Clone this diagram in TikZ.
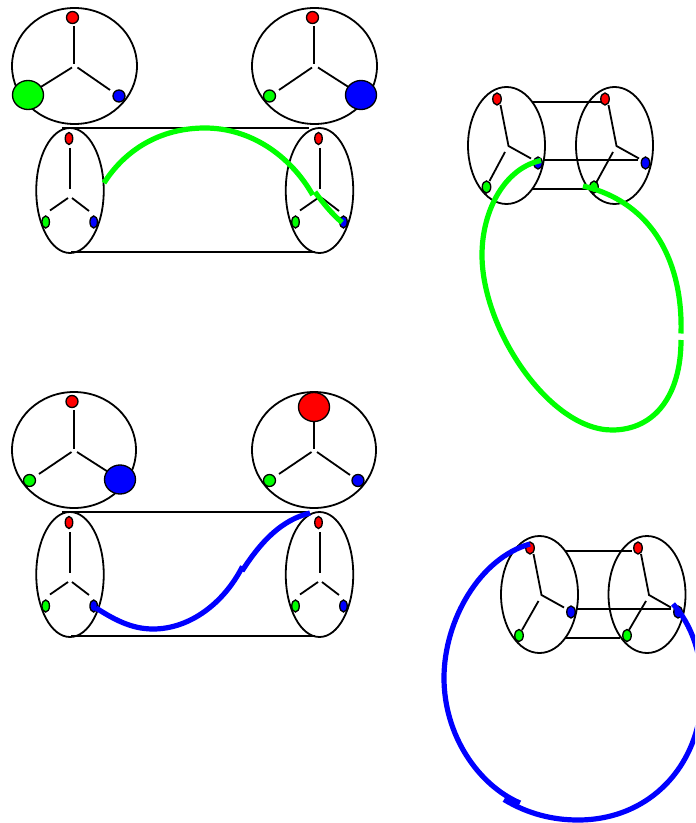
\documentclass[tikz,border=0pt]{standalone}
\usetikzlibrary{shapes.geometric}
\tikzset{
  px/.style={x=0.75pt,y=-0.75pt},
  ring/.style n args={2}{ellipse,draw=black,line width=1.35pt,inner sep=0pt,outer sep=0pt,minimum width=#1*0.75pt,minimum height=#2*0.75pt},
  knob/.style n args={3}{ellipse,draw=black,line width=1pt,inner sep=0pt,outer sep=0pt,fill=#3,minimum width=#1*0.75pt,minimum height=#2*0.75pt},
  wire/.style={line width=1.35pt,black},
  strand/.style={line width=3.9pt,#1},
}
\begin{document}
\begin{tikzpicture}[px]
\clip (0,0) rectangle (695,823);
% ---------- top-left panel
\node[ring={125}{116}] (a1) at (74.5,66) {};
\node[ring={125}{116}] (a2) at (314.5,66) {};
\node[knob={12}{12}{red}] (a1r) at (72.5,17.5) {};
\node[knob={31}{29}{green}] (a1g) at (28,95) {};
\node[knob={12}{12}{blue}] (a1b) at (119,96) {};
\node[knob={12}{12}{red}] (a2r) at (312.5,17.5) {};
\node[knob={12}{12}{green}] (a2g) at (269.5,96) {};
\node[knob={31}{29}{blue}] (a2b) at (361,95) {};
\coordinate (a1c) at (74,64.5); \coordinate (a1l) at (72,67.5); \coordinate (a1m) at (77.5,67.5);
\coordinate (a1t) at (74,26);
\coordinate (a2c) at (314,64.5); \coordinate (a2l) at (312,67.5); \coordinate (a2m) at (318,67.5);
\coordinate (a2t) at (314,26); \coordinate (a2e) at (279,90);
\draw[wire] (a1t) -- (a1c);
\draw[wire] (a1l) -- (a1g);
\coordinate (a1e) at (110,90); \draw[wire] (a1m) -- (a1e);
\draw[wire] (a2t) -- (a2c);
\draw[wire] (a2l) -- (a2e);
\draw[wire] (a2m) -- (a2b);
\node[ring={67.5}{125}] (b1) at (70,190.5) {};
\node[ring={67.5}{125}] (b2) at (319.5,190.5) {};
\node[knob={7.5}{12}{red}] (b1r) at (69,138.5) {};
\node[knob={7.5}{12}{green}] (b1g) at (45.7,222) {};
\node[knob={7.5}{12}{blue}] (b1b) at (93.7,222) {};
\node[knob={7.5}{12}{red}] (b2r) at (318.5,138.5) {};
\node[knob={7.5}{12}{green}] (b2g) at (295.5,222) {};
\node[knob={7.5}{12}{blue}] (b2b) at (343.5,222) {};
\coordinate (b1t) at (70,148); \coordinate (b1c) at (70,189); \coordinate (b1l) at (68,198); \coordinate (b1m) at (72,198);
\coordinate (b1p) at (50,210.5); \coordinate (b1q) at (89,211);
\coordinate (b2t) at (320,148); \coordinate (b2c) at (320,189); \coordinate (b2l) at (318,198); \coordinate (b2m) at (322,198);
\coordinate (b2p) at (300,210.5); \coordinate (b2q) at (339,211);
\draw[wire] (b1t) -- (b1c); \draw[wire] (b1l) -- (b1p); \draw[wire] (b1m) -- (b1q);
\draw[wire] (b2t) -- (b2c); \draw[wire] (b2l) -- (b2p); \draw[wire] (b2m) -- (b2q);
\coordinate (b1n) at (62,128); \coordinate (b2n) at (309,128);
\coordinate (b1s) at (71,252); \coordinate (b2s) at (315,252);
\draw[wire] (b1n) -- (b2n); \draw[wire] (b1s) -- (b2s);
\coordinate (g1) at (104,183); \coordinate (g2) at (205,128); \coordinate (g3) at (312.7,195);
\coordinate (g4) at (315,192); \coordinate (g5) at (342,222.5);
\draw[strand=green] (g1) .. controls (125,150) and (160,128) .. (g2) .. controls (250,128) and (290,155) .. (g3);
\draw[strand=green] (g4) .. controls (323,203) and (332,214) .. (g5);
% ---------- lower-left panel
\node[ring={124}{116}] (c1) at (74,450) {};
\node[ring={124}{116}] (c2) at (314,450) {};
\node[knob={12}{12}{red}] (c1r) at (72,401.5) {};
\node[knob={12}{12}{green}] (c1g) at (29.5,480.5) {};
\node[knob={31}{29}{blue}] (c1b) at (120,479.5) {};
\node[knob={31}{29}{red}] (c2r) at (314,407) {};
\node[knob={12}{12}{green}] (c2g) at (269.5,480.5) {};
\node[knob={12}{12}{blue}] (c2b) at (358,480.5) {};
\coordinate (c1t) at (74,410); \coordinate (c1c) at (74,448.5); \coordinate (c1l) at (71.5,452); \coordinate (c1m) at (77,452); \coordinate (c1e) at (39,474);
\coordinate (c2c) at (314,448.5); \coordinate (c2l) at (311.5,452); \coordinate (c2m) at (317,452); \coordinate (c2e) at (279,474); \coordinate (c2f) at (350,475);
\draw[wire] (c1t) -- (c1c); \draw[wire] (c1l) -- (c1e); \draw[wire] (c1m) -- (c1b);
\draw[wire] (c2r) -- (c2c); \draw[wire] (c2l) -- (c2e); \draw[wire] (c2m) -- (c2f);
\node[ring={67.5}{125}] (d1) at (70,574.5) {};
\node[ring={67.5}{125}] (d2) at (319.5,574.5) {};
\node[knob={7.5}{12}{red}] (d1r) at (69,522.5) {};
\node[knob={7.5}{12}{green}] (d1g) at (45.7,606) {};
\node[knob={7.5}{12}{blue}] (d1b) at (93.7,606) {};
\node[knob={7.5}{12}{red}] (d2r) at (318.5,522.5) {};
\node[knob={7.5}{12}{green}] (d2g) at (295.5,606) {};
\node[knob={7.5}{12}{blue}] (d2b) at (343.5,606) {};
\coordinate (d1t) at (70,532); \coordinate (d1c) at (70,573); \coordinate (d1l) at (68,582); \coordinate (d1m) at (72,582);
\coordinate (d1p) at (50,594.5); \coordinate (d1q) at (89,595);
\coordinate (d2t) at (320,532); \coordinate (d2c) at (320,573); \coordinate (d2l) at (318,582); \coordinate (d2m) at (322,582);
\coordinate (d2p) at (300,594.5); \coordinate (d2q) at (339,595);
\draw[wire] (d1t) -- (d1c); \draw[wire] (d1l) -- (d1p); \draw[wire] (d1m) -- (d1q);
\draw[wire] (d2t) -- (d2c); \draw[wire] (d2l) -- (d2p); \draw[wire] (d2m) -- (d2q);
\coordinate (d1n) at (62,512); \coordinate (d2n) at (309,512);
\coordinate (d1s) at (71,636); \coordinate (d2s) at (315,636);
\draw[wire] (d1n) -- (d2n); \draw[wire] (d1s) -- (d2s);
\coordinate (h1) at (96,608); \coordinate (h2) at (153,629); \coordinate (h3) at (242.5,566.5);
\coordinate (h4) at (242,571); \coordinate (h5) at (310,513);
\draw[strand=blue] (h1) .. controls (112,618) and (130,629) .. (h2) .. controls (190,629) and (224,603) .. (h3);
\draw[strand=blue] (h4) .. controls (262,540) and (282,520) .. (h5);
% ---------- top-right panel
\node[ring={77}{117}] (e1) at (506.5,145.5) {};
\node[ring={77}{117}] (e2) at (614.5,145.5) {};
\node[knob={8.5}{12}{red}] (e1r) at (497,99) {};
\node[knob={8.5}{12}{blue}] (e1b) at (538,163) {};
\node[knob={8.5}{12}{green}] (e1g) at (486.5,187) {};
\node[knob={8.5}{12}{red}] (e2r) at (605,99) {};
\node[knob={8.5}{12}{blue}] (e2b) at (645.5,163) {};
\node[knob={8.5}{12}{green}] (e2g) at (594,187) {};
\coordinate (e1c) at (508.5,146); \coordinate (e1t) at (500.5,105); \coordinate (e1m) at (531,158.5); \coordinate (e1l) at (505,152); \coordinate (e1e) at (489.5,181);
\coordinate (e2c) at (616.5,146); \coordinate (e2t) at (608.5,105); \coordinate (e2m) at (639,158.5); \coordinate (e2l) at (613,152); \coordinate (e2e) at (596,183);
\draw[wire] (e1t) -- (e1c) -- (e1m); \draw[wire] (e1l) -- (e1e);
\draw[wire] (e2t) -- (e2c) -- (e2m); \draw[wire] (e2l) -- (e2e);
\coordinate (e1n) at (532,102); \coordinate (e2n) at (602,102);
\coordinate (e1o) at (543,160); \coordinate (e2o) at (638,160);
\coordinate (e1s) at (532,189); \coordinate (e2s) at (590,189);
\draw[wire] (e1n) -- (e2n); \draw[wire] (e1o) -- (e2o); \draw[wire] (e1s) -- (e2s);
\coordinate (k1) at (541,160.5); \coordinate (k2) at (482,255); \coordinate (k3) at (612,430); \coordinate (k4) at (681,340);
\coordinate (k5) at (681,333.5); \coordinate (k6) at (583,186);
\draw[strand=green] (k1) .. controls (505,168) and (482,210) .. (k2) .. controls (482,330) and (550,430) .. (k3) .. controls (655,430) and (681,395) .. (k4);
\draw[strand=green] (k5) .. controls (683,265) and (655,203) .. (k6);
% ---------- lower-right panel
\node[ring={77}{117}] (f1) at (539.5,594.5) {};
\node[ring={77}{117}] (f2) at (647,594.5) {};
\node[knob={8.5}{12}{red}] (f1r) at (530,548) {};
\node[knob={8.5}{12}{blue}] (f1b) at (571,612) {};
\node[knob={8.5}{12}{green}] (f1g) at (519,635.5) {};
\node[knob={8.5}{12}{red}] (f2r) at (638,548) {};
\node[knob={8.5}{12}{blue}] (f2b) at (678,612) {};
\node[knob={8.5}{12}{green}] (f2g) at (627,635.5) {};
\coordinate (f1c) at (541.5,595); \coordinate (f1t) at (533.5,554); \coordinate (f1m) at (564,607.5); \coordinate (f1l) at (538.5,601); \coordinate (f1e) at (522,630);
\coordinate (f2c) at (649,595); \coordinate (f2t) at (641,554); \coordinate (f2m) at (671,607.5); \coordinate (f2l) at (646,601); \coordinate (f2e) at (629,630);
\draw[wire] (f1t) -- (f1c) -- (f1m); \draw[wire] (f1l) -- (f1e);
\draw[wire] (f2t) -- (f2c) -- (f2m); \draw[wire] (f2l) -- (f2e);
\coordinate (f1n) at (565,551); \coordinate (f2n) at (632,551);
\coordinate (f1o) at (576,609); \coordinate (f2o) at (671,609);
\coordinate (f1s) at (565,638); \coordinate (f2s) at (620,638);
\draw[wire] (f1n) -- (f2n); \draw[wire] (f1o) -- (f2o); \draw[wire] (f1s) -- (f2s);
\coordinate (m1) at (530,544); \coordinate (m2) at (444,678); \coordinate (m3) at (520,803);
\coordinate (m4) at (504,799.5); \coordinate (m5) at (578,820); \coordinate (m6) at (702,690); \coordinate (m7) at (673,604);
\draw[strand=blue] (m1) .. controls (480,558) and (444,620) .. (m2) .. controls (444,735) and (478,785) .. (m3);
\draw[strand=blue] (m4) .. controls (528,814) and (553,820) .. (m5) .. controls (650,820) and (702,765) .. (m6) .. controls (702,655) and (692,625) .. (m7);
\end{tikzpicture}
\end{document}
